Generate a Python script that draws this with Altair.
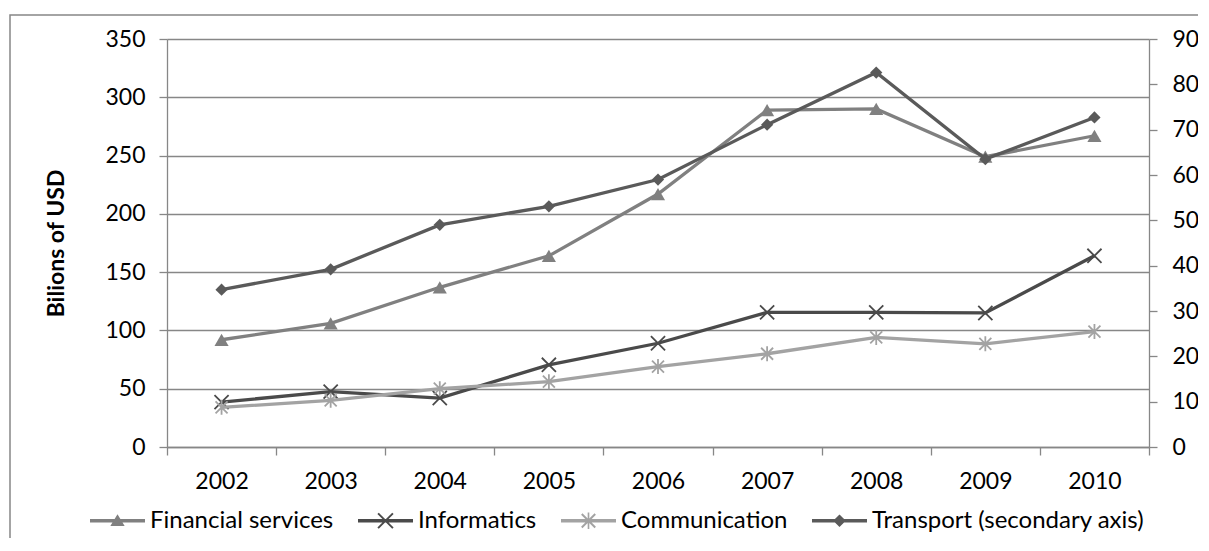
import altair as alt
import pandas as pd

# ---------------- data ----------------
years = ["2002", "2003", "2004", "2005", "2006", "2007", "2008", "2009", "2010"]
financial = [92, 106, 137, 164, 217, 289, 290, 249, 267]
informatics = [38.5, 47.5, 42, 70.5, 89, 115.5, 115.5, 115, 164]
communication = [34, 40, 50, 56, 69, 80, 94, 88.5, 99]
transport = [347, 392, 490, 531, 590, 711, 826, 635, 727]

series_names = ["Financial services", "Informatics", "Communication",
                "Transport (secondary axis)"]
series_values = [financial, informatics, communication, transport]
series_colors = ["#808080", "#4a4a4a", "#a3a3a3", "#5a5a5a"]

left_ticks = [0, 50, 100, 150, 200, 250, 300, 350]
right_ticks = [0, 100, 200, 300, 400, 500, 600, 700, 800, 900]

rows = []
for name, vals in zip(series_names, series_values):
    for yr, v in zip(years, vals):
        rows.append({"series": name, "year": yr, "value": v})
df = pd.DataFrame(rows)

# ---------------- styles ----------------
FONT = "Lato"
FS = 23
GRID = "#878787"

# plot markers (shape, filled, size, strokeWidth)
X_PATH = "M-1,-1L1,1M-1,1L1,-1"
AST_PATH = "M-0.8,-0.8L0.8,0.8M-0.8,0.8L0.8,-0.8M0,-1L0,1"
marker_styles = [
    dict(shape="triangle-up", filled=True, size=200, strokeWidth=0),
    dict(shape=X_PATH, filled=False, size=200, strokeWidth=1.8),
    dict(shape=AST_PATH, filled=False, size=225, strokeWidth=1.8),
    dict(shape="diamond", filled=True, size=150, strokeWidth=0),
]

# legend glyphs: line + marker as filled paths
LINE = "M-1,-0.06V0.06H1V-0.06Z"
legend_paths = [
    LINE + "M0,-0.24L-0.26,0.19H0.26Z",
    LINE + "M-0.295,-0.245L0.245,0.295L0.295,0.245L-0.245,-0.295Z"
           "M-0.245,0.295L0.295,-0.245L0.245,-0.295L-0.295,0.245Z",
    LINE + "M-0.27,-0.22L0.22,0.27L0.27,0.22L-0.22,-0.27Z"
           "M-0.22,0.27L0.27,-0.22L0.22,-0.27L-0.27,0.22Z"
           "M-0.03,-0.3V0.3H0.03V-0.3Z",
    LINE + "M0,-0.23L-0.23,0L0,0.23L0.23,0Z",
]

x_enc = alt.X(
    "year:O", sort=years, bandPosition=0.5,
    scale=alt.Scale(type="band", domain=years, paddingInner=0, paddingOuter=0),
    axis=alt.Axis(title=None, tickBand="extent", labelAngle=0,
                  labelPadding=15, tickSize=8),
)

y_left = alt.Y(
    "value:Q",
    scale=alt.Scale(domain=[0, 350], nice=False, zero=True),
    axis=alt.Axis(title="Bilions of USD", values=left_ticks, grid=True,
                  tickSize=8, labelPadding=14,
                  titleFont=FONT, titleFontSize=FS, titleFontWeight="bold",
                  titleColor="#000000", titleAngle=270,
                  titleBaseline="alphabetic", titleX=-104, titleY=204),
)

y_right = alt.Y(
    "value:Q",
    scale=alt.Scale(domain=[0, 900], nice=False, zero=True),
    axis=alt.Axis(title=None, orient="right", values=right_ticks, grid=False,
                  tickSize=8, labelPadding=15),
)

left_layers = []
right_layers = []
for i, name in enumerate(series_names):
    base = alt.Chart(df).transform_filter(alt.datum.series == name)
    y_enc = y_right if i == 3 else y_left
    line = base.mark_line(color=series_colors[i], strokeWidth=3.3).encode(
        x=x_enc, y=y_enc)
    ms = marker_styles[i]
    pt = base.mark_point(
        shape=ms["shape"], filled=ms["filled"], size=ms["size"],
        strokeWidth=ms["strokeWidth"], color=series_colors[i], opacity=1,
    ).encode(x=x_enc, y=y_enc)
    if i == 3:
        right_layers += [line, pt]
    else:
        left_layers += [line, pt]

left_group = alt.layer(*left_layers)
right_group = alt.layer(*right_layers)

legend_props = dict(
    title=None, orient="none", legendX=-77, legendY=454,
    direction="horizontal", columns=4, symbolSize=3025,
    symbolStrokeWidth=0, symbolOpacity=1, labelFont=FONT, labelFontSize=24,
    labelColor="#000000", labelOffset=5, columnPadding=24, padding=0,
    labelLimit=500,
)

legend_layer = alt.Chart(df).mark_point(filled=True, opacity=0).encode(
    x=alt.value(0), y=alt.value(0),
    fill=alt.Fill("series:N",
                  scale=alt.Scale(domain=series_names, range=series_colors),
                  legend=alt.Legend(**legend_props)),
    shape=alt.Shape("series:N",
                    scale=alt.Scale(domain=series_names, range=legend_paths),
                    legend=alt.Legend(**legend_props)),
)

# outer chart-area frame (decoration)
frame = alt.Chart(pd.DataFrame({"f": [0]})).mark_rect(
    fillOpacity=0, stroke=GRID, strokeWidth=1.5
).encode(x=alt.value(-157), x2=alt.value(1300),
         y=alt.value(-24), y2=alt.value(700))

chart = alt.layer(frame, left_group, right_group, legend_layer).resolve_scale(
    y="independent"
).properties(
    width=982, height=408,
    autosize=alt.AutoSizeParams(type="none"),
    padding={"left": 159, "top": 31, "right": 49, "bottom": 91},
    background="white",
).configure_view(stroke=None).configure_axis(
    labelFont=FONT, labelFontSize=FS, labelColor="#000000",
    domainColor=GRID, tickColor=GRID, gridColor=GRID,
    domainWidth=1.3, tickWidth=1.3, gridWidth=1.3,
    labelFlush=False, labelOverlap=False,
)

chart.save("out.html", embed_options={"renderer": "svg", "actions": False})
